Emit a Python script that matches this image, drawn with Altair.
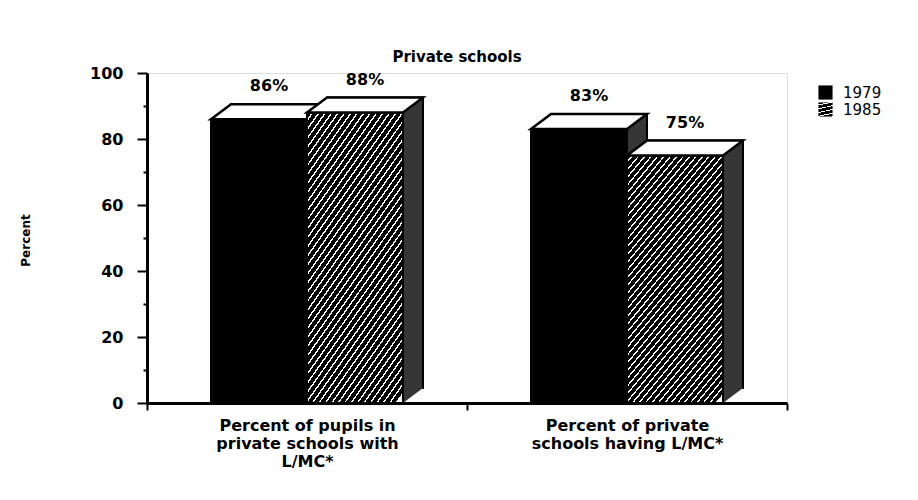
import altair as alt
import pandas as pd

# ---- data ----
categories = ["Percent of pupils in|private schools with|L/MC*",
              "Percent of private|schools having L/MC*"]
years = ["1979", "1985"]
values_1979 = [86, 83]
values_1985 = [88, 75]
y_ticks = [0, 20, 40, 60, 80, 100]
y_minor = [10, 30, 50, 70, 90]

rows = []
for yr, vals in zip(years, [values_1979, values_1985]):
    for c, v in zip(categories, vals):
        rows.append({"category": c, "year": yr, "value": v})
df = pd.DataFrame(rows)

# ---- styling ----
W, H = 640, 330
BAR = 96
DX, DY = 20, 15
FONT = "DejaVu Sans"
SIDE = "#363636"

# diagonal hatch as a striped linear gradient
n = 46
stops = []
for i in range(n):
    a, b, c = i / n, (i + 0.74) / n, (i + 1) / n
    stops += [(a, "black"), (b, "black"), (b, "white"), (c, "white")]
stops_js = ",".join("{offset:%.4f,color:'%s'}" % (o, col) for o, col in stops)
hatch = "{gradient:'linear',x1:0,y1:0,x2:0.55,y2:1.18,stops:[%s]}" % stops_js

base = alt.Chart(df).transform_calculate(zero="0", label="datum.value + '%'")

x_enc = alt.X(
    "category:N", sort=categories, title=None,
    scale=alt.Scale(paddingInner=0, paddingOuter=0),
    axis=alt.Axis(labelExpr="split(datum.label, '|')", labelAngle=0,
                  tickBand="extent", tickSize=7, tickWidth=2, tickColor="black",
                  domainWidth=3, domainColor="black", labelFont=FONT,
                  labelFontWeight="bold", labelFontSize=16, labelLineHeight=18,
                  labelPadding=7, labelColor="black", labelLimit=400,
                  labelOverlap=False))

yscale = alt.Scale(domain=[0, 100], nice=False)
y_main = alt.Y("value:Q", scale=yscale, axis=alt.Axis(
    values=y_ticks, title="Percent", orient="left", offset=0, grid=False,
    tickSize=10, tickWidth=2, tickColor="black", domainWidth=3, domainColor="black",
    labelFont=FONT, labelFontWeight="bold", labelFontSize=16, labelColor="black",
    labelPadding=14, titleFont=FONT, titleFontWeight="bold", titleFontSize=12,
    titleColor="black", titleX=-115, titleY=167))
y_minor_enc = alt.Y("value:Q", scale=yscale, axis=alt.Axis(
    values=y_minor, orient="left", offset=0, grid=False, labels=False, title=None,
    domain=False, tickSize=4, tickWidth=2, tickColor="black"))
y_none = alt.Y("value:Q", scale=yscale, axis=None)
y_zero = alt.Y("zero:Q", scale=yscale, axis=None)

color_enc = alt.Color("year:N", scale=alt.Scale(domain=years, range=["black", {"expr": hatch}]),
                      legend=alt.Legend(title=None, orient="none", legendX=671, legendY=12,
                                        symbolType="square", symbolSize=200, symbolStrokeWidth=0,
                                        labelFont=FONT, labelFontSize=15, labelColor="black",
                                        labelOffset=10, rowPadding=1, padding=0))

TOP = "M-48,0L48,0L68,-15L-28,-15Z"
TRI = "M48,0L68,-15L67,-16.5L48,-16.5Z"

layers = []
for i, yr in enumerate(years):
    o = -BAR / 2 if i == 0 else BAR / 2
    d = base.transform_filter(alt.datum.year == yr)
    back = d.mark_bar(width=BAR, xOffset=o + DX, yOffset=-DY, y2Offset=-DY,
                      fill=SIDE, stroke="black", strokeWidth=2).encode(
        x=x_enc, y=(y_minor_enc if i == 0 else y_none))
    tri = d.mark_point(shape=TRI, size=4, filled=True, fill=SIDE, opacity=1,
                       strokeWidth=0, xOffset=o).encode(x=x_enc, y=y_zero)
    front = d.mark_bar(width=BAR, xOffset=o, stroke="black", strokeWidth=2).encode(
        x=x_enc, y=(y_main if i == 0 else y_none), color=color_enc)
    top = d.mark_point(shape=TOP, size=4, filled=True, fill="white", opacity=1,
                       stroke="black", strokeWidth=2.5, xOffset=o).encode(x=x_enc, y=y_none)
    text = d.mark_text(xOffset=o + 10, dy=-28, baseline="alphabetic", font=FONT,
                       fontWeight="bold", fontSize=16, color="black").encode(
        x=x_enc, y=y_none, text="label:N")
    layers += [back, tri, front, top, text]

chart = alt.layer(*layers).resolve_axis(y="independent").properties(
    width=W, height=H,
    title=alt.TitleParams("Private schools", font=FONT, fontSize=15, fontWeight="bold",
                          anchor="middle", frame="group", offset=0, dx=-10, color="black"),
    padding={"left": 139, "top": 65, "right": 123, "bottom": 89},
    autosize=alt.AutoSizeParams(type="none"),
).configure_view(stroke=None).configure(font=FONT)

chart.save("out.html", embed_options={"renderer": "svg", "actions": False})
